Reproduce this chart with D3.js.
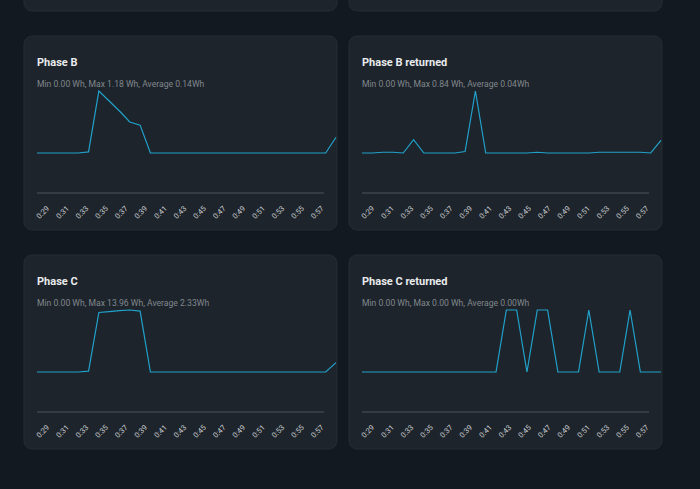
<!DOCTYPE html>
<html lang="en">
<head>
<meta charset="UTF-8">
<title>Phase energy</title>
<script src="https://cdn.jsdelivr.net/npm/d3@7/dist/d3.min.js"></script>
<style>
  body { margin: 0; background: #131920; }
  svg { display: block; font-family: Roboto, "Noto Sans", sans-serif; }
</style>
</head>
<body>
<svg id="chart"></svg>
<script>
// 30 samples per chart, one per minute-ish
const titles = ["Phase B", "Phase B returned", "Phase C", "Phase C returned"];
const statMin = ["0.00", "0.00", "0.00", "0.00"];
const statMax = ["1.18", "0.84", "13.96", "0.00"];
const statAvg = ["0.14", "0.04", "2.33", "0.00"];

const phaseB = [0, 0, 0, 0, 0, 0.02, 1.18, 0.99, 0.80, 0.59, 0.53, 0, 0, 0, 0,
  0, 0, 0, 0, 0, 0, 0, 0, 0, 0, 0, 0, 0, 0, 0.30];
const phaseBReturned = [0, 0, 0.01, 0.01, 0, 0.18, 0, 0, 0, 0, 0.02, 0.84, 0, 0, 0,
  0, 0, 0.01, 0, 0, 0, 0, 0, 0.01, 0.01, 0.01, 0.01, 0.01, 0, 0.17];
const phaseC = [0, 0, 0, 0, 0, 0.2, 13.4, 13.6, 13.8, 13.96, 13.7, 0, 0, 0, 0,
  0, 0, 0, 0, 0, 0, 0, 0, 0, 0, 0, 0, 0, 0, 2.1];
const phaseCReturned = [0, 0, 0, 0, 0, 0, 0, 0, 0, 0, 0, 0, 0, 0, 0.001,
  0.001, 0, 0.001, 0.001, 0, 0, 0, 0.001, 0, 0, 0, 0.001, 0, 0, 0];

const tickMinutes = [29, 31, 33, 35, 37, 39, 41, 43, 45, 47, 49, 51, 53, 55, 57];

const series = [phaseB, phaseBReturned, phaseC, phaseCReturned];

const W = 700, H = 489;
const cardW = 313, cardH = 194;
const colX = [24, 349];
const rowY = [36, 255];

const svg = d3.select("#chart").attr("width", W).attr("height", H);

// top row cards, only their bottoms show
colX.forEach(x => {
  svg.append("rect")
    .attr("x", x).attr("y", rowY[0] - 219)
    .attr("width", cardW).attr("height", cardH)
    .attr("rx", 8)
    .attr("fill", "#1e242b")
    .attr("stroke", "#252c33");
});

series.forEach((values, i) => {
  const left = colX[i % 2], top = rowY[Math.floor(i / 2)];
  const g = svg.append("g");

  g.append("rect")
    .attr("x", left).attr("y", top)
    .attr("width", cardW).attr("height", cardH)
    .attr("rx", 8)
    .attr("fill", "#1e242b")
    .attr("stroke", "#252c33");

  g.append("clipPath").attr("id", "clip" + i)
    .append("rect")
    .attr("x", left).attr("y", top)
    .attr("width", cardW).attr("height", cardH);

  g.append("text")
    .attr("x", left + 13).attr("y", top + 30)
    .attr("fill", "#e9ebed")
    .attr("font-size", 11)
    .attr("font-weight", 700)
    .text(titles[i]);

  g.append("text")
    .attr("x", left + 13).attr("y", top + 50.5)
    .attr("fill", "#80878e")
    .attr("font-size", 8.6)
    .text(`Min ${statMin[i]} Wh, Max ${statMax[i]} Wh, Average ${statAvg[i]}Wh`);

  const x = d3.scaleLinear()
    .domain([0, values.length - 1])
    .range([left + 13, left + 312]);
  const y = d3.scaleLinear()
    .domain([0, d3.max(values)])
    .range([top + 117, top + 55]);

  // baseline
  g.append("line")
    .attr("x1", left + 13).attr("x2", left + 300)
    .attr("y1", top + 157).attr("y2", top + 157)
    .attr("stroke", "#3d444b")
    .attr("stroke-width", 1.5);

  const line = d3.line()
    .x((d, j) => x(j))
    .y(d => y(d));

  g.append("path")
    .datum(values)
    .attr("clip-path", `url(#clip${i})`)
    .attr("d", line)
    .attr("fill", "none")
    .attr("stroke", "#20a2cc")
    .attr("stroke-width", 1.2)
    .attr("stroke-linejoin", "miter");

  const t = d3.scaleLinear()
    .domain([29, 57])
    .range([left + 25.3, left + 299.7]);

  const axis = g.append("g")
    .attr("transform", `translate(0,${top + 173})`)
    .call(d3.axisBottom(t).tickValues(tickMinutes).tickFormat(d => "0:" + d).tickSize(0));

  axis.select(".domain").remove();
  axis.selectAll("text")
    .attr("x", 0).attr("y", 0).attr("dy", 0)
    .attr("text-anchor", "end")
    .attr("transform", "rotate(-45)")
    .attr("fill", "#c8ccd0")
    .attr("font-size", 7.5)
    .attr("font-family", "Roboto, sans-serif");
});
</script>
</body>
</html>
